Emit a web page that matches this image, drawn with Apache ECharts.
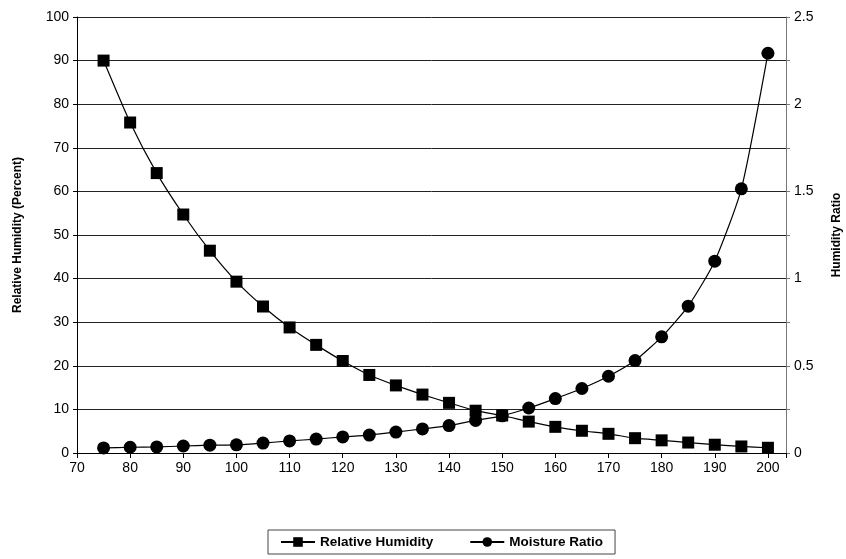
<!DOCTYPE html>
<html>
<head>
<meta charset="utf-8">
<script src="https://cdn.jsdelivr.net/npm/echarts@6/dist/echarts.min.js"></script>
<style>
html,body{margin:0;padding:0;background:#fff;}
#chart{width:846px;height:559px;}
</style>
</head>
<body>
<div id="chart"></div>
<script>
var temperatures = [75,80,85,90,95,100,105,110,115,120,125,130,135,140,145,150,155,160,165,170,175,180,185,190,195,200];
var relativeHumidity = [90.0,75.8,64.2,54.7,46.4,39.3,33.6,28.8,24.8,21.1,17.9,15.5,13.4,11.5,9.7,8.6,7.2,6.0,5.1,4.4,3.4,2.9,2.4,1.9,1.5,1.2];
var moistureRatio = [0.029,0.033,0.035,0.040,0.045,0.047,0.057,0.069,0.080,0.092,0.103,0.120,0.138,0.157,0.187,0.213,0.258,0.312,0.370,0.440,0.530,0.666,0.842,1.100,1.515,2.292];
var seriesNames = ['Relative Humidity','Moisture Ratio'];
var leftAxisName = 'Relative Humidity (Percent)';
var rightAxisName = 'Humidity Ratio';

function pairs(xs, ys){ return xs.map(function(x,i){ return [x, ys[i]]; }); }

var chart = echarts.init(document.getElementById('chart'));
var font = 'Liberation Sans, Arial, sans-serif';
chart.setOption({
  animation: false,
  backgroundColor: '#fff',
  grid: { left: 77, right: 60, top: 17, bottom: 106, containLabel: false, outerBoundsMode: 'none' },
  legend: {
    left: 268, top: 530,
    itemWidth: 34, itemHeight: 12, itemGap: 36,
    padding: [5, 12],
    borderColor: '#444', borderWidth: 1,
    textStyle: { fontFamily: font, fontWeight: 'bold', fontSize: 13.5, color: '#000' },
    data: seriesNames
  },
  xAxis: {
    type: 'value', min: 70, max: 203.4, interval: 10,
    axisLine: { show: true, lineStyle: { color: '#000', width: 1 } },
    axisTick: { show: true, length: 5, lineStyle: { color: '#000' } },
    axisLabel: { color: '#000', fontFamily: font, fontSize: 14, margin: 8,
      formatter: function(v){ return (v % 10 === 0) ? String(v) : ''; } },
    splitLine: { show: false }
  },
  yAxis: [{
    type: 'value', min: 0, max: 100, interval: 10,
    position: 'left',
    name: leftAxisName, nameLocation: 'middle', nameRotate: 90, nameGap: 53,
    nameTextStyle: { fontFamily: font, fontWeight: 'bold', fontSize: 12, color: '#000' },
    axisLine: { show: true, lineStyle: { color: '#000', width: 1 } },
    axisTick: { show: true, length: 4, lineStyle: { color: '#000' } },
    axisLabel: { color: '#000', fontFamily: font, fontSize: 14, margin: 8 },
    splitLine: { show: true, lineStyle: { color: '#222', width: 1 } }
  }, {
    type: 'value', min: 0, max: 2.5, interval: 0.25,
    position: 'right',
    name: rightAxisName, nameLocation: 'middle', nameRotate: 90, nameGap: 45,
    nameTextStyle: { fontFamily: font, fontWeight: 'bold', fontSize: 12, color: '#000' },
    axisLine: { show: true, lineStyle: { color: '#777', width: 1 } },
    axisTick: { show: true, length: 4, lineStyle: { color: '#777' } },
    axisLabel: { color: '#000', fontFamily: font, fontSize: 14, margin: 8,
      formatter: function(v){ var r = Math.round(v*100); return (r % 50 === 0) ? String(+v.toFixed(2)) : ''; } },
    splitLine: { show: false }
  }],
  series: [{
    name: seriesNames[0], type: 'line', yAxisIndex: 0,
    data: pairs(temperatures, relativeHumidity),
    smooth: 0.2,
    symbol: 'rect', symbolSize: 12,
    itemStyle: { color: '#000' },
    lineStyle: { color: '#000', width: 1.2 }
  }, {
    name: seriesNames[1], type: 'line', yAxisIndex: 1,
    data: pairs(temperatures, moistureRatio),
    smooth: 0.2,
    symbol: 'circle', symbolSize: 13,
    itemStyle: { color: '#000' },
    lineStyle: { color: '#000', width: 1.2 }
  }]
});
</script>
</body>
</html>
